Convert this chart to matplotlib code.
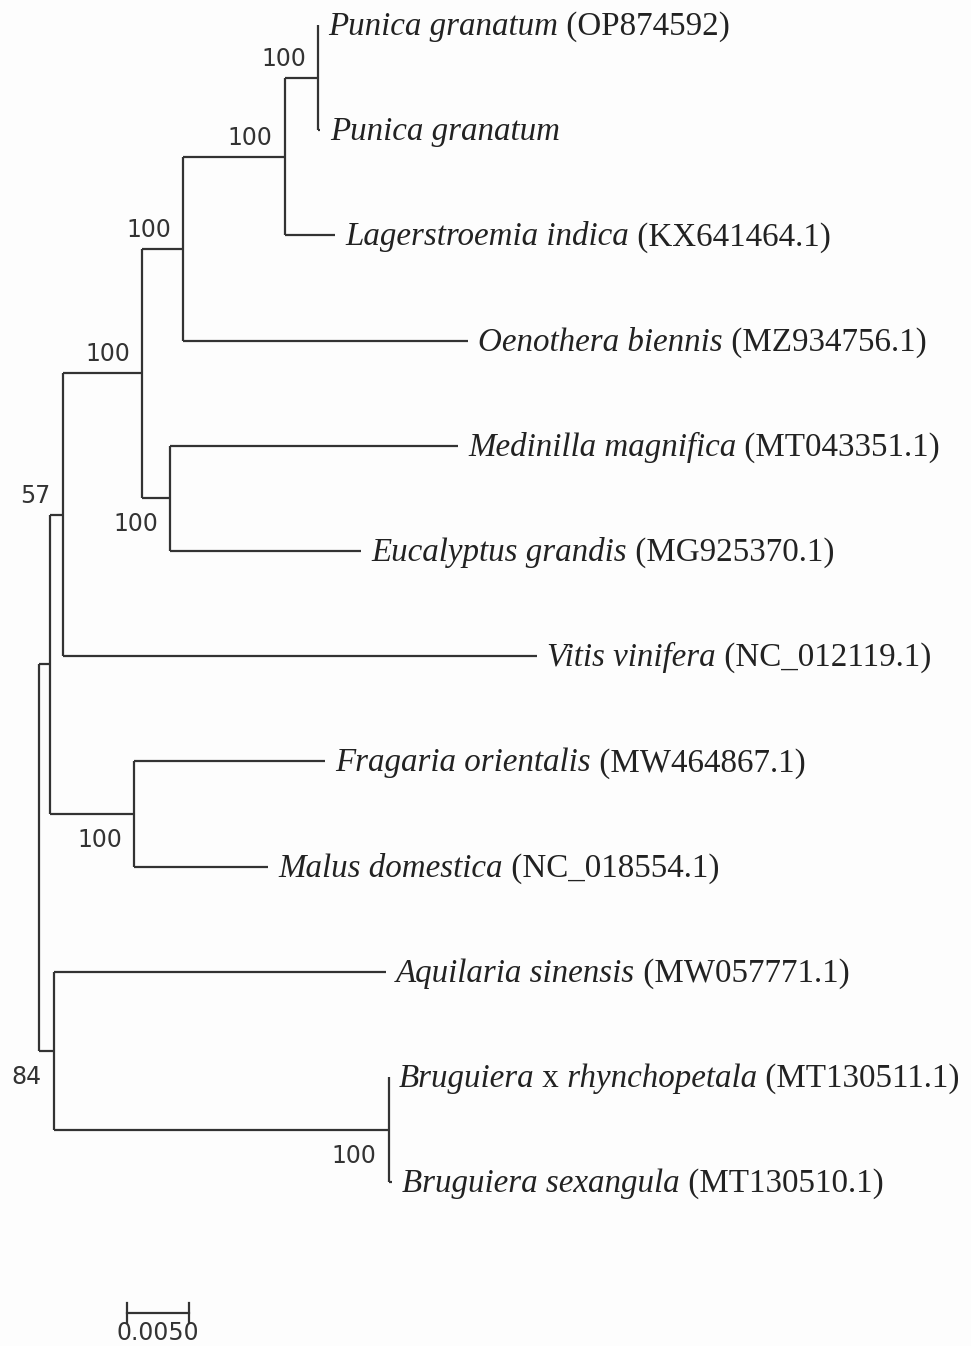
import numpy as np
import matplotlib
matplotlib.use("Agg")
import matplotlib.pyplot as plt

# leaves, top to bottom
species = ["Punica granatum", "Punica granatum", "Lagerstroemia indica", "Oenothera biennis",
           "Medinilla magnifica", "Eucalyptus grandis", "Vitis vinifera", "Fragaria orientalis",
           "Malus domestica", "Aquilaria sinensis", "Bruguiera x rhynchopetala", "Bruguiera sexangula"]
accessions = ["OP874592", "", "KX641464.1", "MZ934756.1", "MT043351.1", "MG925370.1",
              "NC_012119.1", "MW464867.1", "NC_018554.1", "MW057771.1", "MT130511.1", "MT130510.1"]
tip_parent = ["F", "F", "E", "D", "G", "G", "B", "H", "H", "I", "J", "J"]
tip_length = [0.0000, 0.0002, 0.0041, 0.0230, 0.0232, 0.0154, 0.0383, 0.0154, 0.0108, 0.0268, 0.0000, 0.0003]

# internal nodes (parent listed before child)
node_id = ["R", "A", "B", "C", "D", "E", "F", "G", "H", "I", "J"]
node_parent = [None, "R", "A", "B", "C", "D", "E", "C", "A", "R", "I"]
node_length = [0.0, 0.0009, 0.0010, 0.0064, 0.0033, 0.0082, 0.0027, 0.0023, 0.0068, 0.0012, 0.0270]
node_support = [None, None, 57, 100, 100, 100, 100, 100, 100, 84, 100]

scale_len = 0.005

col = "#333333"
fig = plt.figure(figsize=(9.71, 13.46), dpi=100, facecolor="#fdfdfd")
ax = fig.add_axes([0, 0, 1, 1])
ax.set_facecolor("#fdfdfd")
px = 1 / 12400.0   # data units per pixel in x
py = 1 / 105.2     # leaf spacing
ax.set_xlim(-39 * px, 932 * px)
ax.set_ylim(12.557, -25 * py)
ax.axis("off")

# x positions
xpos = {}
for n, p, l in zip(node_id, node_parent, node_length):
    xpos[n] = (xpos[p] if p else 0.0) + l
tips_x = [xpos[p] + l for p, l in zip(tip_parent, tip_length)]

# children (in order) of every node
children = {n: [] for n in node_id}
for i, p in enumerate(tip_parent):
    children[p].append(("t", i))
for n, p in zip(node_id, node_parent):
    if p:
        children[p].append(("n", n))

ypos = {}
def get_y(c):
    kind, k = c
    if kind == "t":
        return k
    if k not in ypos:
        ys = [get_y(cc) for cc in children[k]]
        ypos[k] = (min(ys) + max(ys)) / 2
    return ypos[k]
get_y(("n", "R"))

lw = 1.6
for n in node_id:
    ys = []
    for c in children[n]:
        cy = get_y(c)
        ys.append(cy)
        cx = tips_x[c[1]] if c[0] == "t" else xpos[c[1]]
        ax.plot([xpos[n], cx], [cy, cy], color=col, lw=lw, solid_capstyle="butt")
    ax.plot([xpos[n], xpos[n]], [min(ys), max(ys)], color=col, lw=lw, solid_capstyle="butt")

# leaf labels: italic species, upright "x" and accession
fs = 23.8
for i in range(len(species)):
    segs = []
    for w in species[i].split(" "):
        it = w != "x"
        if segs and segs[-1][1] == it:
            segs[-1][0] += " " + w
        else:
            segs.append([(" " if segs else "") + w, it])
    if accessions[i]:
        segs.append([" (%s)" % accessions[i], False])
    prev = None
    for txt, it in segs:
        style = "italic" if it else "normal"
        if prev is None:
            prev = ax.annotate(txt, (tips_x[i], i), xytext=(10, -10), textcoords="offset pixels",
                               ha="left", va="baseline", fontsize=fs, color="#222222",
                               family="Liberation Serif", style=style)
        else:
            prev = ax.annotate(txt, (1, i), xycoords=(prev, "data"), xytext=(0, -10),
                               textcoords="offset pixels", ha="left", va="baseline",
                               fontsize=fs, color="#222222", family="Liberation Serif", style=style)

# bootstrap values
for n, p, s in zip(node_id, node_parent, node_support):
    if s is None:
        continue
    above = ypos[n] < ypos[p]
    dy = 12 if above else -33
    ax.annotate(str(s), (xpos[n], ypos[n]), xytext=(-12, dy), textcoords="offset pixels",
                ha="right", va="baseline", fontsize=17, color=col, family="DejaVu Sans")

# scale bar
sx0 = (127 - 39) * px
sy = (1313 - 25) * py
tick = 10 * py
ax.plot([sx0, sx0 + scale_len], [sy, sy], color=col, lw=lw)
ax.plot([sx0, sx0], [sy - tick, sy + tick], color=col, lw=lw)
ax.plot([sx0 + scale_len, sx0 + scale_len], [sy - tick, sy + tick], color=col, lw=lw)
ax.text(sx0 + scale_len / 2, sy + 27 * py, "%.4f" % scale_len, ha="center", va="baseline",
        fontsize=17, color=col, family="DejaVu Sans")

fig.savefig("out.png", dpi=100, facecolor=fig.get_facecolor())
